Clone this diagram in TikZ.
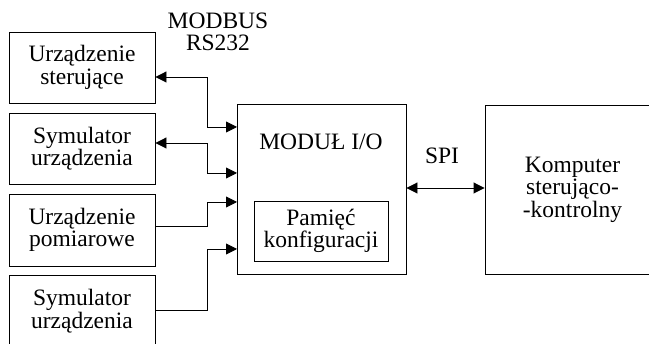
\documentclass[tikz,border=0pt]{standalone}
\usepackage{fontspec}
\setmainfont{Liberation Serif}
\usetikzlibrary{arrows.meta}
\begin{document}
\begin{tikzpicture}[x=1pt,y=-1pt,
  every node/.style={font=\fontsize{23.5}{22.5}\selectfont},
  box/.style={draw,line width=0.9pt,inner sep=0pt,align=center},
  link/.style={line width=0.9pt},
  tip/.style={-{Triangle[length=11pt,width=11pt]}},
  tips/.style={{Triangle[length=11pt,width=11pt]}-{Triangle[length=11pt,width=11pt]}}]
\useasboundingbox (0,0) rectangle (649,344);
\clip (0,0) rectangle (649,344);
% left boxes
\node[box,minimum width=146pt,minimum height=71pt] (b1) at (82,67.5) {Urządzenie\\sterujące};
\node[box,minimum width=146pt,minimum height=71pt] (b2) at (82,148.5) {Symulator\\urządzenia};
\node[box,minimum width=146pt,minimum height=72pt] (b3) at (82,230) {Urządzenie\\pomiarowe};
\node[box,minimum width=146pt,minimum height=72pt] (b4) at (82,311) {Symulator\\urządzenia};
% module
\node[box,minimum width=169pt,minimum height=170pt] (m) at (321.5,189) {};
\node (mt) at (321,142) {MODUŁ I/O};
\node[box,line width=0.7pt,minimum width=134pt,minimum height=60pt] (mem) at (321,231) {Pamięć\\konfiguracji};
% computer
\node[box,minimum width=175pt,minimum height=169pt] (pc) at (572.5,189.5) {Komputer\\sterująco-\\-kontrolny};
% labels
\node[align=center] (modbus) at (218,32) {MODBUS\\RS232};
\node (spi) at (442,156) {SPI};
% coordinates
\coordinate (k1) at (207,77);
\coordinate (k2) at (207,143);
\coordinate (k3) at (207,226);
\coordinate (k4) at (207,310);
\coordinate (e1) at (237,127);
\coordinate (e2) at (237,173);
\coordinate (e3) at (237,202);
\coordinate (e4) at (237,249);
\coordinate (s) at (0,188);
% connectors
\draw[link,tips] (b1.east |- k1) -- (k1) |- (e1);
\draw[link,tips] (b2.east |- k2) -- (k2) |- (e2);
\draw[link,tip] (b3.east |- k3) -- (k3) |- (e3);
\draw[link,tip] (b4.east |- k4) -- (k4) |- (e4);
\draw[link,tips] (m.east |- s) -- (pc.west |- s);
\end{tikzpicture}
\end{document}
